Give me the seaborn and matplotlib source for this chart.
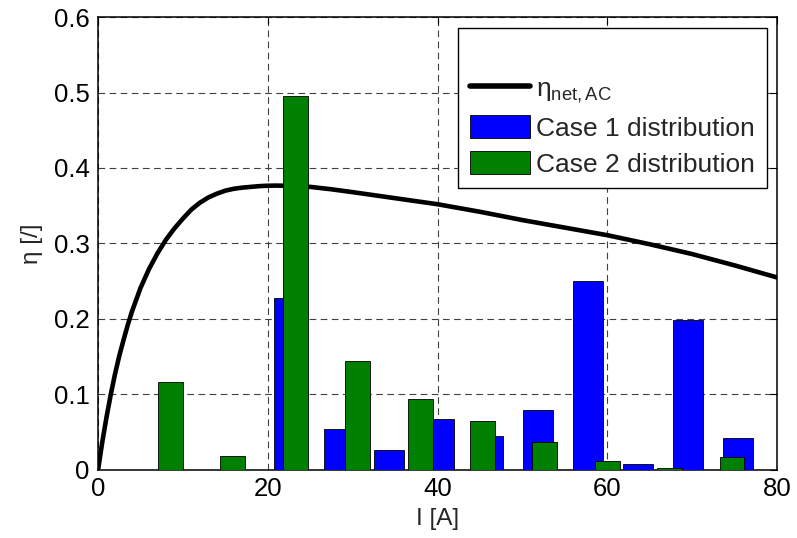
import matplotlib
matplotlib.use("Agg")
import matplotlib.pyplot as plt
from matplotlib.lines import Line2D
from matplotlib.patches import Patch
import seaborn as sns

# ---- data ----
curve_x = [0, 0.5, 1, 1.5, 2, 2.5, 3, 3.5, 4, 5, 6, 7, 8, 9, 10, 11, 12, 13, 14, 15,
           16, 17, 18, 19, 20, 21, 22, 25, 27.5, 30, 35, 40, 45, 50, 55, 60, 65, 70,
           75, 80]
curve_y = [0, 0.037, 0.070, 0.100, 0.127, 0.151, 0.172, 0.192, 0.210, 0.241, 0.266,
           0.287, 0.305, 0.320, 0.333, 0.345, 0.354, 0.361, 0.366, 0.370, 0.3725,
           0.374, 0.375, 0.376, 0.3765, 0.3767, 0.3765, 0.375, 0.3718, 0.368, 0.360,
           0.352, 0.342, 0.331, 0.321, 0.311, 0.299, 0.286, 0.271, 0.255]

case1_x = [22.48, 28.36, 34.24, 40.12, 46.00, 51.88, 57.76, 63.64, 69.52, 75.40]
case1_y = [0.228, 0.054, 0.026, 0.068, 0.045, 0.079, 0.250, 0.0075, 0.199, 0.043]

case2_x = [8.54, 15.89, 23.24, 30.59, 37.94, 45.29, 52.64, 59.99, 67.34, 74.69]
case2_y = [0.116, 0.019, 0.496, 0.144, 0.094, 0.065, 0.037, 0.0115, 0.003, 0.017]

xticks = [0, 20, 40, 60, 80]
yticks = [0, 0.1, 0.2, 0.3, 0.4, 0.5, 0.6]
ytick_labels = ["0", "0.1", "0.2", "0.3", "0.4", "0.5", "0.6"]

labels = [r"η$_\mathregular{net,AC}$", "Case 1 distribution", "Case 2 distribution"]

# ---- style ----
sns.set_style("white")
plt.rcParams["font.family"] = ["Liberation Sans", "DejaVu Sans"]
plt.rcParams["mathtext.fontset"] = "custom"
plt.rcParams["mathtext.rm"] = "Liberation Sans"
plt.rcParams["mathtext.it"] = "Liberation Sans:italic"

fig = plt.figure(figsize=(7.97, 5.38), dpi=100)
ax = fig.add_axes([0.123, 0.1264, 0.852, 0.842])

sns.lineplot(x=curve_x, y=curve_y, color="black", linewidth=3.3, ax=ax, zorder=2,
             sort=False, estimator=None)
sns.barplot(x=case1_x, y=case1_y, native_scale=True, width=0.6, color="#0000FF",
            saturation=1, edgecolor="black", linewidth=0.6, errorbar=None, ax=ax,
            zorder=3)
sns.barplot(x=case2_x, y=case2_y, native_scale=True, width=0.4, color="#008000",
            saturation=1, edgecolor="black", linewidth=0.6, errorbar=None, ax=ax,
            zorder=4)
for p in ax.patches[:len(case1_x)]:
    p.set_zorder(3)
for p in ax.patches[len(case1_x):]:
    p.set_zorder(4)

ax.set_xlim(0, 80)
ax.set_ylim(0, 0.6)
ax.set_xticks(xticks)
ax.set_xticklabels([str(t) for t in xticks])
ax.set_yticks(yticks)
ax.set_yticklabels(ytick_labels)
ax.tick_params(direction="in", length=5, width=0.8, labelsize=18.5, top=True,
               right=True, pad=6, colors="black")
ax.tick_params(axis="x", pad=5)

ax.set_axisbelow(True)
ax.grid(True, color="0.25", linewidth=0.8, linestyle=(0, (6, 4)))
for s in ax.spines.values():
    s.set_visible(True)
    s.set_color("black")
    s.set_linewidth(1.1)

ax.set_xlabel("I [A]", fontsize=17.5, labelpad=5)
ax.set_ylabel("η [/]", fontsize=17.5, labelpad=8)

handles = [Line2D([], [], color="none"),
           Line2D([], [], color="black", linewidth=4),
           Patch(facecolor="#0000FF", edgecolor="black", linewidth=0.6),
           Patch(facecolor="#008000", edgecolor="black", linewidth=0.6)]
leg = ax.legend(handles, [" "] + labels, loc="upper right", fontsize=19,
                frameon=True, fancybox=False, framealpha=1, edgecolor="black",
                borderpad=0.45, handlelength=2.3, handleheight=1.0,
                handletextpad=0.2, labelspacing=0.38, borderaxespad=0.4)
leg.get_frame().set_linewidth(1.0)
leg.set_zorder(10)

fig.savefig("out.png", dpi=100)
